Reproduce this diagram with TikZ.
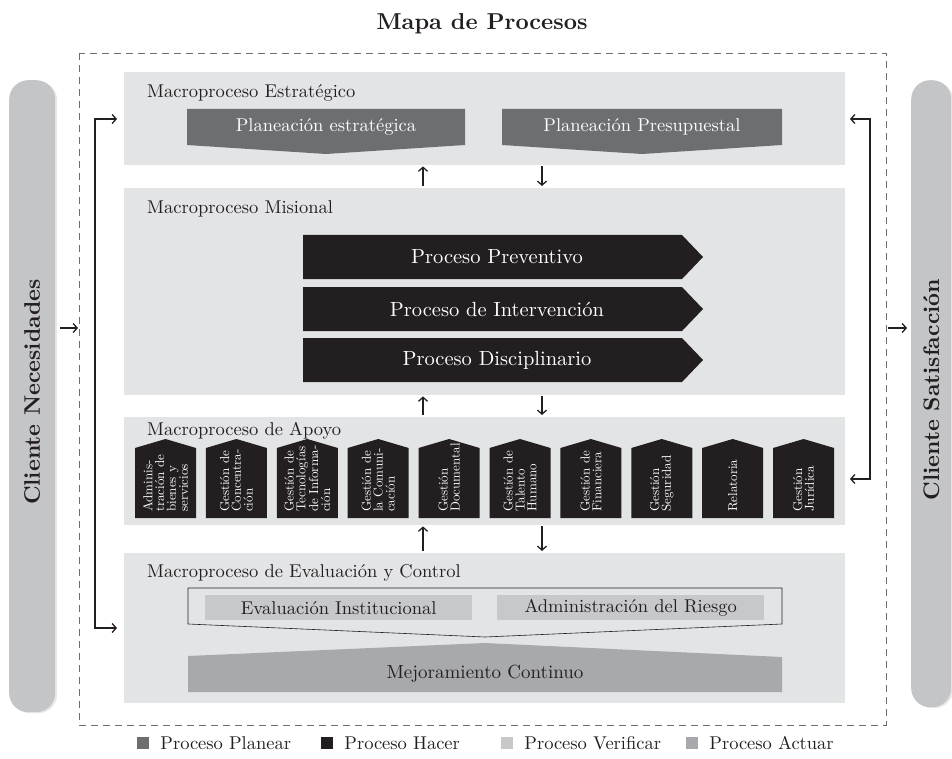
\documentclass[tikz,border=0pt]{standalone}
\usepackage{fontspec}
\setmainfont{lmroman10-regular}[Extension=.otf, BoldFont=lmroman10-bold, ItalicFont=lmroman10-italic]
\usepackage{xcolor}
\usepackage{tikz}
\usetikzlibrary{positioning,calc,arrows.meta,shadows}
\definecolor{blockgray}{RGB}{227,228,230}
\definecolor{planear}{RGB}{109,110,112}
\definecolor{hacer}{RGB}{35,31,32}
\definecolor{verificar}{RGB}{199,200,202}
\definecolor{actuar}{RGB}{167,169,172}
\definecolor{pillargray}{RGB}{196,197,199}
\definecolor{ink}{RGB}{35,31,32}
\tikzset{
  frame/.style      = {draw=planear, dash pattern=on 7pt off 5pt, line width=0.8pt},
  pillar/.style     = {fill=pillargray, rounded corners=19pt, inner sep=0pt, minimum width=46pt,
                       drop shadow={shadow xshift=2pt, shadow yshift=-1pt, opacity=0.18}},
  pillartxt/.style  = {rotate=90, font=\fontsize{22.5}{24}\selectfont\bfseries, text=ink, inner sep=0pt},
  blk/.style        = {fill=blockgray, minimum width=721pt, anchor=north west, inner sep=0pt},
  macrolbl/.style   = {font=\fontsize{18.5}{20}\selectfont, anchor=base west, text=ink, inner sep=0pt},
  plantxt/.style    = {font=\fontsize{18.5}{20}\selectfont, text=white, inner sep=0pt},
  hacertxt/.style   = {font=\fontsize{20.5}{22}\selectfont, text=white, inner sep=0pt},
  housetxt/.style   = {rotate=90, anchor=west, align=left, text=white, inner sep=0pt,
                       font=\fontsize{13}{11.8}\selectfont},
  evalbox/.style    = {fill=verificar, anchor=north west, minimum width=267pt, minimum height=25pt,
                       inner sep=0pt, font=\fontsize{18.5}{20}\selectfont, text=ink},
  lbl/.style        = {font=\fontsize{19}{20}\selectfont, text=ink, inner sep=0pt},
  legsq/.style      = {minimum size=12pt, inner sep=0pt},
  leglbl/.style     = {font=\fontsize{18.5}{20}\selectfont, text=ink, inner sep=0pt},
  ttl/.style        = {font=\fontsize{23}{25}\selectfont\bfseries, text=ink, inner sep=0pt},
  arr/.style        = {-{Straight Barb[length=4pt,width=9pt]}, draw=ink, line width=1.3pt},
  bracket/.style    = {{Straight Barb[length=4pt,width=9pt]}-{Straight Barb[length=4pt,width=9pt]},
                       draw=ink, line width=1.3pt},
}

\begin{document}
\begin{tikzpicture}[x=1pt,y=-1pt]
  \useasboundingbox (0,0) rectangle (952,759);

  % title
  \node[ttl] (title) at (482,24) {Mapa de Procesos};

  % clients
  \node[pillar, minimum height=632pt, anchor=north west] (lpil) at (9,80) {};
  \node[pillartxt] (needs) at ($(lpil.center)+(0,-4)$) {Cliente Necesidades};
  \node[pillar, minimum height=627pt, minimum width=40pt, anchor=north west] (rpil) at (911,80) {};
  \node[pillartxt] (satis) at ($(rpil.center)+(0,-4)$) {Cliente Satisfacción};

  % frame
  \draw[frame] (79,53) rectangle (886,725);

  % macro blocks
  \node[blk, minimum height=93pt] (estr) at (124,72) {};
  \node[blk, minimum height=207pt] (mis) at (124,188) {};
  \node[blk, minimum height=108pt] (apoyo) at (124,417) {};
  \node[blk, minimum height=150pt] (eval) at (124,553) {};
  \node[macrolbl] (lestr) at (147,98) {Macroproceso Estratégico};
  \node[macrolbl] (lmis) at (147,214) {Macroproceso Misional};
  \node[macrolbl] (lapoyo) at (147,435) {Macroproceso de Apoyo};
  \node[macrolbl] (leval) at (147,577) {Macroproceso de Evaluación y Control};

  % planear
  \foreach \xl/\xr/\t/\n in {187/465/Planeación estratégica/pe, 502/782/Planeación Presupuestal/pp} {
    \fill[planear] (\xl,109) -- (\xr,109) -- (\xr,145) -- ({(\xl+\xr)/2},154) -- (\xl,145) -- cycle;
    \node[plantxt] (\n) at ({(\xl+\xr)/2},127) {\t};
  }

  % hacer
  \foreach \yt/\t/\n in {235/Proceso Preventivo/prev, 287/Proceso de Intervención/interv, 338/Proceso Disciplinario/disc} {
    \fill[hacer] (303,\yt) -- (682,\yt) -- (703,\yt+22) -- (682,\yt+44) -- (303,\yt+44) -- cycle;
    \node[hacertxt] (\n) at (497,\yt+22) {\t};
  }

  % apoyo
  \foreach \t [count=\i from 0, evaluate=\i as \xl using 135+70.9*\i] in
    {{Adminis-\\tración de\\bienes y\\servicios}, {Gestión de\\Concentra-\\ción},
     {Gestión de\\Tecnologías\\de Informa-\\ción}, {Gestión de\\la Comuni-\\cación},
     {Gestión\\Documental}, {Gestión de\\Talento\\Humano}, {Gestión de\\Financiera},
     {Gestión\\Seguridad}, {Relatoria}, {Gestión\\Jurídica}} {
    \fill[hacer] (\xl,448) -- (\xl+30.5,439) -- (\xl+61,448) -- (\xl+61,518) -- (\xl,518) -- cycle;
    \node[housetxt] (ap\i) at (\xl+30.5,512) {\t};
  }

  % evaluacion
  \draw[ink, line width=0.6pt] (188,588) -- (782,588) -- (782,624) -- (485,637) -- (188,624) -- cycle;
  \node[evalbox] (evinst) at (205,595) {Evaluación Institucional};
  \node[evalbox] (admr) at (497,595) {Administración del Riesgo};
  \fill[actuar] (188,656) -- (485,643) -- (782,657) -- (782,692) -- (188,692) -- cycle;
  \node[lbl] (mejora) at (485,674) {Mejoramiento Continuo};

  % flows between blocks
  \coordinate (upx) at (423,0);
  \coordinate (dnx) at (542,0);
  \draw[arr, shorten <=2pt, shorten >=1pt] (mis.north -| upx) -- (estr.south -| upx);
  \draw[arr, shorten <=1pt, shorten >=2pt] (estr.south -| dnx) -- (mis.north -| dnx);
  \draw[arr, shorten <=2pt, shorten >=1pt] (apoyo.north -| upx) -- (mis.south -| upx);
  \draw[arr, shorten <=1pt, shorten >=2pt] (mis.south -| dnx) -- (apoyo.north -| dnx);
  \draw[arr, shorten <=2pt, shorten >=1pt] (eval.north -| upx) -- (apoyo.south -| upx);
  \draw[arr, shorten <=1pt, shorten >=2pt] (apoyo.south -| dnx) -- (eval.north -| dnx);

  % brackets
  \coordinate (inestrL) at (117,119);
  \coordinate (inevalL) at (117,628);
  \draw[bracket] (inestrL) -| (95,628) -- (inevalL);
  \coordinate (inestrR) at (850,119);
  \coordinate (inapoyoR) at (850,479);
  \draw[bracket] (inestrR) -| (870,479) -- (inapoyoR);

  % client arrows
  \coordinate (needout) at (60,328);
  \coordinate (needin) at (78,328);
  \draw[arr] (needout) -- (needin);
  \coordinate (satout) at (888,328);
  \coordinate (satin) at (907,328);
  \draw[arr] (satout) -- (satin);

  % legend
  \foreach \xs/\c/\t/\n in {137/planear/Proceso Planear/lgp, 321/hacer/Proceso Hacer/lgh,
                            501/verificar/Proceso Verificar/lgv, 686/actuar/Proceso Actuar/lga} {
    \node[legsq, fill=\c] (\n sq) at (\xs+6,743) {};
    \node[leglbl, right=11pt of \n sq] (\n) {\t};
  }
\end{tikzpicture}
\end{document}
